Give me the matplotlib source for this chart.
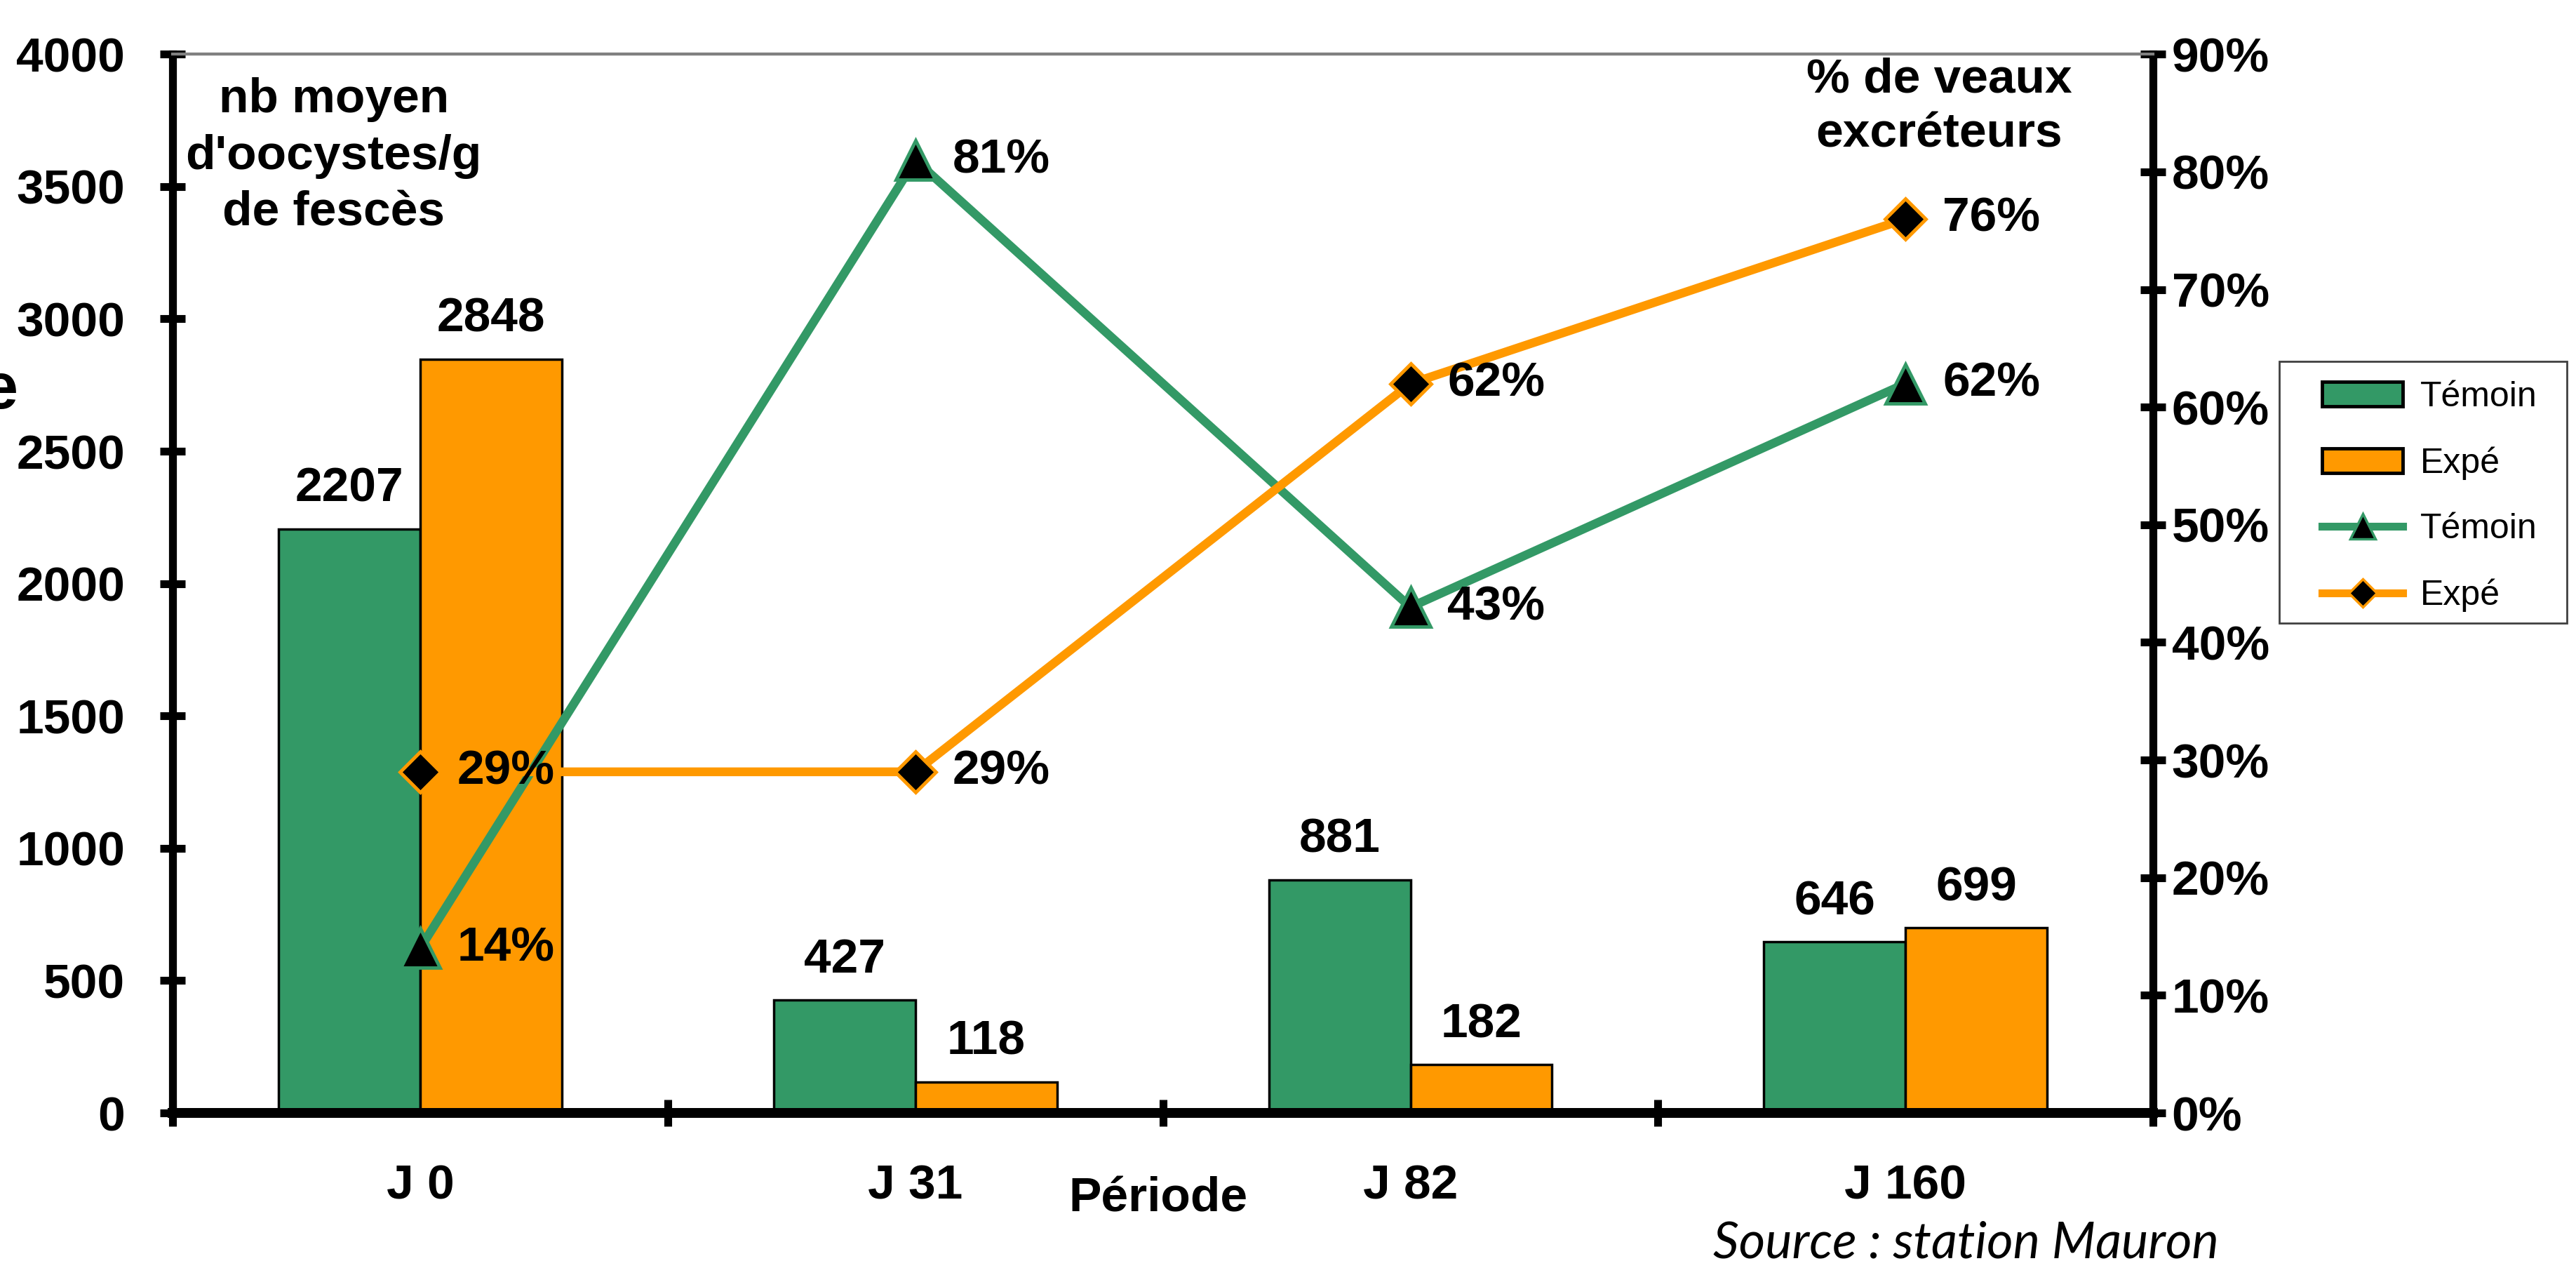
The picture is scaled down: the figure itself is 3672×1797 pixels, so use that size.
import numpy as np
import matplotlib
matplotlib.use('Agg')
import matplotlib.pyplot as plt
from matplotlib.patches import Patch, Rectangle
from matplotlib.lines import Line2D

plt.rcParams['font.family'] = ['Liberation Sans', 'DejaVu Sans']

# data
categories = ['J 0', 'J 31', 'J 82', 'J 160']
temoin_oocystes = [2207, 427, 881, 646]
expe_oocystes = [2848, 118, 182, 699]
temoin_pct = [14, 81, 43, 62]
expe_pct = [29, 29, 62, 76]

GREEN = '#339966'
ORANGE = '#FF9900'
FS = 50

fig = plt.figure(figsize=(36.73, 17.97), dpi=100)
ax = fig.add_axes([0.067, 0.1174, 0.7686, 0.8396])
ax2 = ax.twinx()

x = np.arange(len(categories))
w = 0.286

# bars on left axis
b1 = ax.bar(x - w / 2, temoin_oocystes, w, color=GREEN, edgecolor='black', linewidth=2.5)
b2 = ax.bar(x + w / 2, expe_oocystes, w, color=ORANGE, edgecolor='black', linewidth=2.5)
for bars in (b1, b2):
    for r in bars:
        ax.annotate(f"{int(r.get_height())}", (r.get_x() + r.get_width() / 2, r.get_height()),
                    xytext=(0, 18), textcoords='offset points', ha='center', va='bottom',
                    fontsize=FS, fontweight='bold')

ax.set_xlim(-0.5, 3.5)
ax.set_ylim(0, 4000)
ax.set_yticks(np.arange(0, 4001, 500))
ax.set_xticks(x)
ax.set_xticklabels(categories)
ax.set_xticks(np.arange(-0.5, 3.6, 1), minor=True)
ax.tick_params(axis='x', which='major', length=0, pad=52, labelsize=FS)
ax.tick_params(axis='x', which='minor', direction='inout', length=28, width=8)
ax.tick_params(axis='y', direction='inout', length=26, width=8, pad=36, labelsize=FS)
for lab in ax.get_xticklabels() + ax.get_yticklabels():
    lab.set_fontweight('bold')

# lines on right axis
ax2.plot(x, temoin_pct, color=GREEN, lw=9, marker='^', markersize=40,
         markerfacecolor='black', markeredgecolor=GREEN, markeredgewidth=3.5, zorder=3)
ax2.plot(x, expe_pct, color=ORANGE, lw=9, marker='D', markersize=30,
         markerfacecolor='black', markeredgecolor=ORANGE, markeredgewidth=3.5, zorder=3)
for xi, v in zip(x, temoin_pct):
    ax2.annotate(f"{v}%", (xi, v), xytext=(38, 0), textcoords='offset points',
                 ha='left', va='center', fontsize=FS, fontweight='bold')
for xi, v in zip(x, expe_pct):
    ax2.annotate(f"{v}%", (xi, v), xytext=(38, 0), textcoords='offset points',
                 ha='left', va='center', fontsize=FS, fontweight='bold')

ax2.set_ylim(0, 90)
ax2.set_yticks(np.arange(0, 91, 10))
ax2.set_yticklabels([f"{t}%" for t in range(0, 91, 10)])
ax2.tick_params(axis='y', direction='inout', length=26, width=8, pad=6, labelsize=FS)
for lab in ax2.get_yticklabels():
    lab.set_fontweight('bold')

for a in (ax, ax2):
    for s in ('left', 'right'):
        a.spines[s].set_linewidth(8)
        a.spines[s].set_color('black')
    a.spines['bottom'].set_linewidth(10)
    a.spines['bottom'].set_color('black')
    a.spines['top'].set_color('#808080')
    a.spines['top'].set_linewidth(3)

# texts
fig.text(0.1295, 0.876, "nb moyen\nd'oocystes/g\nde fescès", ha='center', va='center',
         fontsize=FS, fontweight='bold', linespacing=1.33)
fig.text(0.7526, 0.915, "% de veaux\nexcréteurs", ha='center', va='center',
         fontsize=FS, fontweight='bold', linespacing=1.27)
fig.text(0.4495, 0.049, "Période", ha='center', va='center', fontsize=FS, fontweight='bold')
fig.text(0.861, 0.014, "Source : station Mauron", ha='right', va='center',
         fontsize=52, style='italic', family=['Lato', 'DejaVu Sans'])
fig.text(0.0, 0.6895, "e", ha='center', va='center', fontsize=66, fontweight='bold')

# legend box drawn by hand so its padding matches
fig.patches.append(Rectangle((0.8846, 0.5058), 0.1116, 0.2076, transform=fig.transFigure,
                             facecolor='white', edgecolor='#404040', linewidth=2, zorder=4))
handles = [Patch(facecolor=GREEN, edgecolor='black', linewidth=3.5),
           Patch(facecolor=ORANGE, edgecolor='black', linewidth=3.5),
           Line2D([], [], color=GREEN, lw=8, marker='^', markersize=26,
                  markerfacecolor='black', markeredgecolor=GREEN, markeredgewidth=2.5),
           Line2D([], [], color=ORANGE, lw=8, marker='D', markersize=20,
                  markerfacecolor='black', markeredgecolor=ORANGE, markeredgewidth=2.5)]
labels = ['Témoin', 'Expé', 'Témoin', 'Expé']
leg = fig.legend(handles, labels, loc='upper left', bbox_to_anchor=(0.8937, 0.7134),
                 borderaxespad=0, fontsize=36, frameon=False,
                 handlelength=2.3, handletextpad=0.5,
                 labelspacing=0.95, borderpad=0.55)
leg.set_zorder(5)

fig.savefig('out.png', dpi=100)
